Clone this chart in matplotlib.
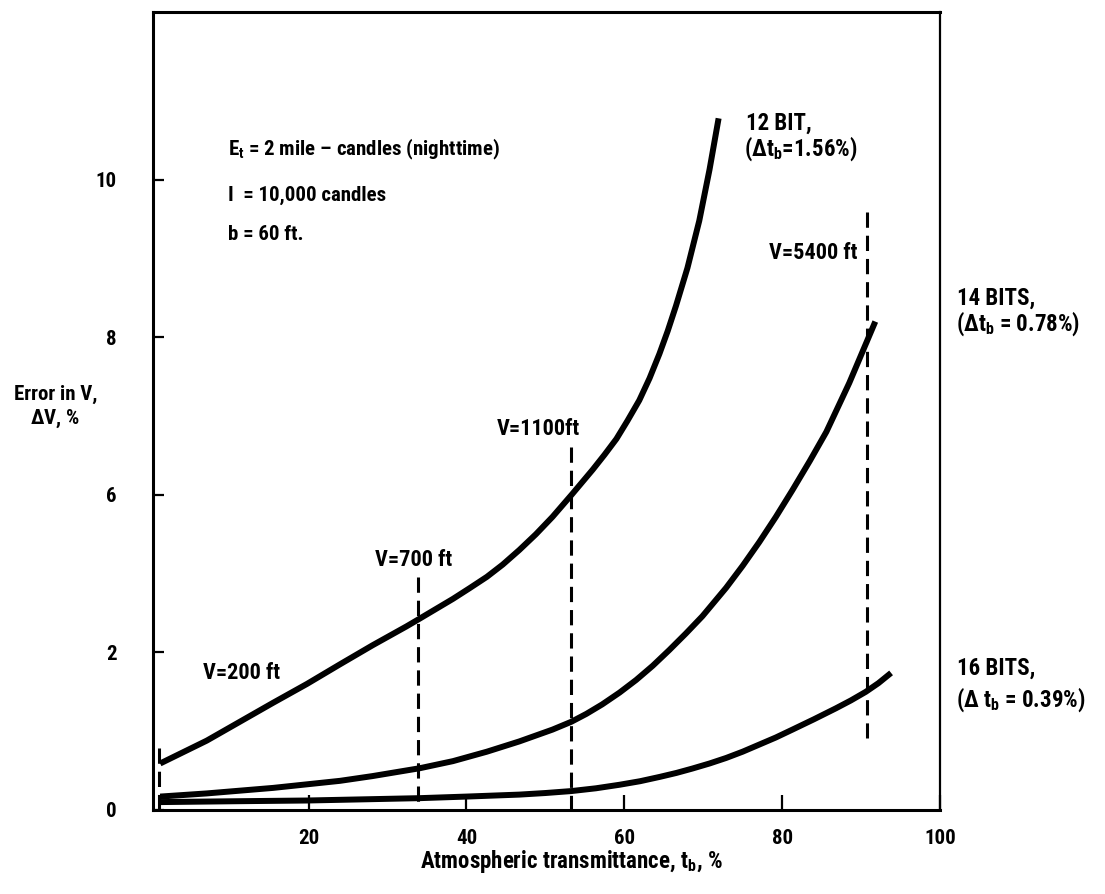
import matplotlib
matplotlib.use("Agg")
import matplotlib.pyplot as plt
from matplotlib import font_manager

# Вузький жирний шрифт, як у скані (беремо перший, що має жирне накреслення)
def has_bold(name):
    for f in font_manager.fontManager.ttflist:
        w = f.weight if isinstance(f.weight, int) else font_manager.weight_dict.get(f.weight, 400)
        if f.name == name and w >= 600:
            return True
    return False

font = "Liberation Sans"
for name in ["Roboto Condensed", "IBM Plex Sans Condensed", "Fira Sans Condensed",
             "Barlow Semi Condensed", "Encode Sans Condensed", "Liberation Sans Narrow"]:
    if has_bold(name):
        font = name
        break
plt.rcParams["font.family"] = [font, "DejaVu Sans"]
plt.rcParams["font.weight"] = "bold"
plt.rcParams["mathtext.fontset"] = "custom"
plt.rcParams["mathtext.rm"] = font + ":bold"
plt.rcParams["mathtext.it"] = font + ":bold"
plt.rcParams["mathtext.bf"] = font + ":bold"

# Дані (t_b, %; похибка в одиницях позиції осі)
t12 = [1.2, 7.1, 11.3, 15.5, 19.8, 24.0, 28.1, 32.4, 34.1, 38.3, 40.4, 42.6, 44.6,
       46.7, 48.8, 50.9, 53.4, 56.0, 57.5, 59.0, 60.4, 61.9, 63.2, 64.45, 65.5,
       66.55, 68.0, 69.5, 70.8, 71.95]
dv12 = [0.59, 0.88, 1.12, 1.36, 1.60, 1.85, 2.09, 2.33, 2.43, 2.68, 2.815, 2.96, 3.115,
        3.30, 3.50, 3.72, 4.01, 4.32, 4.51, 4.71, 4.94, 5.20, 5.48, 5.79, 6.08,
        6.40, 6.88, 7.48, 8.13, 8.78]

t14 = [1.2, 7.1, 15.5, 24.0, 28.1, 34.1, 38.3, 42.6, 46.7, 50.9, 53.3, 55.2, 57.2,
       59.4, 61.5, 63.6, 65.7, 67.8, 69.9, 72.9, 75.0, 77.1, 79.2, 81.3, 83.5,
       85.6, 88.5, 91.8]
dv14 = [0.17, 0.21, 0.28, 0.37, 0.43, 0.53, 0.62, 0.74, 0.87, 1.02, 1.12, 1.22, 1.34,
        1.49, 1.65, 1.83, 2.03, 2.24, 2.46, 2.82, 3.10, 3.40, 3.72, 4.06, 4.43,
        4.80, 5.42, 6.20]

t16 = [1.2, 10, 19.8, 27, 34.1, 40, 46.7, 50.0, 53.3, 56.4, 59.4, 62.0, 64.5, 66.6,
       68.6, 70.8, 72.9, 75.0, 77.1, 79.2, 81.3, 84.0, 86.8, 88.7, 90.6, 92.2, 93.8]
dv16 = [0.10, 0.11, 0.12, 0.135, 0.15, 0.17, 0.195, 0.215, 0.24, 0.275, 0.32, 0.365,
        0.42, 0.47, 0.525, 0.59, 0.66, 0.74, 0.83, 0.92, 1.02, 1.15, 1.29, 1.39,
        1.50, 1.61, 1.74]

# Вертикальні пунктирні лінії (дальність видимості V)
v_t = [1.1, 33.9, 53.3, 90.8]
v_top = [0.79, 2.96, 4.61, 7.59]
v_bot = [0.0, 0.0, 0.0, 0.91]

y_ticks = [0, 2, 4, 6, 8]
y_labels = ["0", "2", "6", "8", "10"]
x_ticks = [20, 40, 60, 80, 100]

fig = plt.figure(figsize=(11.05, 8.94), dpi=100)
ax = fig.add_axes([0.1385, 0.094, 0.7122, 0.8926])

for t, d in [(t12, dv12), (t14, dv14), (t16, dv16)]:
    ax.plot(t, d, color="black", lw=4.3, solid_capstyle="butt", solid_joinstyle="round")

for x, top, bot in zip(v_t, v_top, v_bot):
    ax.plot([x, x], [top, bot], color="black", lw=2.2, dashes=(5.0, 2.6))

ax.set_xlim(0.3, 100)
ax.set_ylim(0, 10.13)
ax.set_xticks(x_ticks)
ax.set_yticks(y_ticks)
ax.set_yticklabels(y_labels)
ax.tick_params(axis="y", direction="in", length=8, width=1.6, pad=26, labelsize=15)
ax.tick_params(axis="x", direction="in", length=11, width=1.6, pad=14, labelsize=15)
for s in ["left", "bottom", "top"]:
    ax.spines[s].set_linewidth(2.2)
ax.spines["right"].set_linewidth(1.6)

fs = 15
ax.text(9.8, 8.38, r"E$_{\rm t}$ = 2 mile – candles (nighttime)", fontsize=fs, va="center")
ax.text(9.8, 7.80, "I  = 10,000 candles", fontsize=fs, va="center")
ax.text(9.8, 7.30, "b = 60 ft.", fontsize=fs, va="center")

fr = 16.5
ax.text(75.4, 8.72, "12 BIT,", fontsize=fr, va="center")
ax.text(75.2, 8.40, r"($\Delta$t$_{\rm b}$=1.56%)", fontsize=fr, va="center")
ax.text(102.1, 6.50, "14 BITS,", fontsize=fr, va="center", clip_on=False)
ax.text(102.0, 6.18, r"($\Delta$t$_{\rm b}$ = 0.78%)", fontsize=fr, va="center", clip_on=False)
ax.text(102.1, 1.80, "16 BITS,", fontsize=fr, va="center", clip_on=False)
ax.text(102.0, 1.40, r"($\Delta$ t$_{\rm b}$ = 0.39%)", fontsize=fr, va="center", clip_on=False)

fv = 16
ax.text(6.6, 1.74, "V=200 ft", fontsize=fv, va="center")
ax.text(28.4, 3.17, "V=700 ft", fontsize=fv, va="center")
ax.text(43.8, 4.83, "V=1100ft", fontsize=fv, va="center")
ax.text(89.5, 7.07, "V=5400 ft", fontsize=fv, va="center", ha="right")

fig.text(0.05, 0.544, "Error in V,\n$\\Delta$V, %", fontsize=fs, ha="center", va="center",
         multialignment="center")
fig.text(0.517, 0.036, r"Atmospheric transmittance, t$_{\rm b}$, %", fontsize=16.5,
         ha="center", va="center")

fig.savefig("out.png", dpi=100, facecolor="white")
